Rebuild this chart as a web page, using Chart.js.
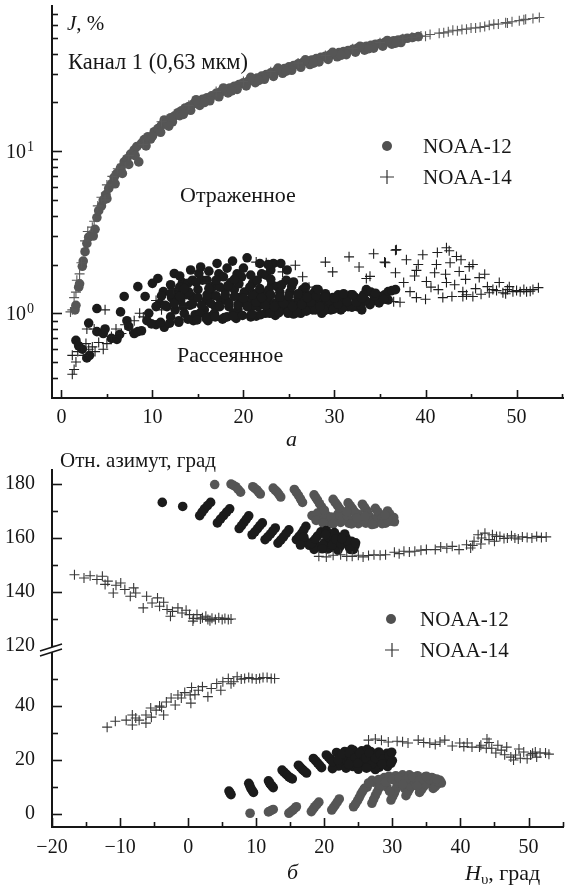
<!DOCTYPE html>
<html>
<head>
<meta charset="utf-8">
<script src="https://cdn.jsdelivr.net/npm/chart.js@4.4.2/dist/chart.umd.min.js"></script>
<style>
  html, body { margin: 0; padding: 0; background: #fff; }
  #wrap { position: relative; width: 570px; height: 886px; overflow: hidden; }
  canvas { position: absolute; left: 0; }
  #topChart { top: 0; }
  #bottomChart { top: 440px; }
</style>
</head>
<body>
<div id="wrap">
  <canvas id="topChart" width="570" height="460"></canvas>
  <canvas id="bottomChart" width="570" height="446"></canvas>
</div>
<script>
// ---- panel a: J, % vs H ----
// reflected signal
const topReflected12 = [
  [1.5,1.05],[1.6,1.12],[1.9,1.45],[2.0,1.52],[2.3,1.95],[2.4,2.1],[2.6,2.4],[2.8,2.7],[3.0,2.95],[3.3,3.05],
  [3.5,3.0],[3.7,3.3],[3.9,3.9],[4.1,4.3],[4.4,4.6],[4.6,5.0],[4.9,5.4],[5.2,5.9],[5.5,6.3],[5.8,6.9],
  [6.1,7.3],[6.5,7.9],[6.9,8.6],[7.2,9.0],[7.6,9.6],[8.0,10.2],[8.3,10.7],[8.5,8.6],[8.8,11.2],[9.1,11.8],
  [9.5,12.3],[9.8,11.9],[10.2,13.2],[10.6,13.8],[11.0,14.5],[11.3,15.6],[11.6,15.0],[12.0,16.1],[12.4,16.5],[12.8,17.3],
  [13.2,17.8],[13.6,18.5],[14.0,18.9],[14.5,19.6],[15.0,20.2],[15.5,20.9],[16.0,21.4],[16.5,22.0],[17.0,22.8],[17.5,23.3],
  [18.0,24.0],[18.5,24.6],[19.0,25.2],[19.5,25.8],[20.0,26.5],[20.5,27.0],[21.0,27.8],[21.5,28.3],[22.0,29.1],[22.5,29.7],
  [23.0,30.5],[23.5,31.0],[24.0,31.8],[24.5,32.4],[25.0,33.2],[25.5,33.8],[26.0,34.6],[26.5,35.2],[27.0,36.0],[27.5,36.5],
  [28.0,37.3],[28.5,38.0],[29.0,38.6],[29.5,39.4],[30.0,40.0],[30.5,40.6],[31.0,41.3],[31.5,41.9],[32.0,42.6],[32.5,43.2],
  [33.0,43.9],[33.5,44.4],[34.0,45.1],[34.5,45.8],[35.0,46.3],[35.5,46.9],[36.0,47.5],[36.5,48.1],[37.0,48.6],[37.5,49.2],
  [38.0,49.8],[38.6,50.4],[39.2,51.0],
  [12.2,15.2],[13.0,16.6],[14.2,17.9],[15.2,19.2],[16.3,20.5],[17.3,21.7],[18.3,22.9],[19.3,24.1],[20.3,25.3],[21.3,26.5],
  [22.3,27.8],[23.3,29.0],[24.3,30.3],[25.3,31.6],[26.3,33.0],[27.3,34.3],[28.3,35.6],[29.3,36.9],[30.3,38.3],[31.3,39.5],
  [32.3,40.9],[33.3,42.1],[34.3,43.3],[35.3,44.5],[36.3,45.8],[37.3,46.9],
  [14.8,20.8],[17.8,24.6],[20.8,28.6],[23.8,32.6],[26.8,36.7],[29.8,40.8],
  [5.0,5.1],[5.9,6.3],[6.7,7.3],[7.4,8.3],[8.1,9.4],[9.3,10.8],[10.0,12.4],[10.9,13.1],[11.8,14.3],[13.4,16.9],
  [15.7,20.0],[18.7,23.6],[21.7,27.4],[24.7,31.2],[27.7,35.0],[30.7,39.1],[33.7,42.9],[36.7,46.5],[32.8,44.4],[35.8,48.3]
];
const topReflected14 = [
  [1.0,1.02],[1.2,1.05],[1.4,1.25],[1.6,1.35],[1.7,1.6],[2.0,1.75],[2.2,2.05],[2.6,2.8],[2.9,3.2],[3.4,3.4],
  [3.6,3.7],[4.0,4.6],[4.4,5.2],[4.8,5.0],[5.0,6.2],[5.6,7.0],[6.2,7.8],[7.0,8.0],[7.4,9.4],[9.0,11.0],
  [11.0,15.2],[14.0,19.2],[17.0,23.4],[20.0,27.0],[23.0,31.0],[26.0,35.0],[29.0,39.0],[32.0,43.0],[35.0,46.8],[37.5,49.5],
  [38.5,50.5],[39.5,51.5],[40.0,51.3],[40.5,52.6],[41.5,53.6],[42.0,53.8],[42.5,54.6],[43.0,55.8],[43.5,55.5],[44.0,56.4],
  [44.5,56.7],[45.0,57.6],[45.5,57.7],[46.0,58.2],[46.5,58.9],[47.0,60.0],[47.5,60.7],[48.0,61.0],[48.8,62.2],[49.0,61.8],
  [49.5,63.0],[50.3,64.0],[50.8,64.8],[51.0,65.2],[51.8,66.0],[52.5,67.0]
];
// scattered signal
const topScatter12 = [
  [1.6,0.68],[1.9,0.63],[2.3,0.6],[2.8,0.53],[3.1,0.55],[3.0,0.87],[3.9,0.77],[3.9,1.07],[4.6,0.75],[4.8,0.8],
  [5.5,0.7],[6.1,0.69],[6.4,0.74],[6.5,1.02],[6.9,1.27],[7.2,0.9],[7.4,0.83],[8.0,0.75],[8.4,0.77],[8.4,1.46],
  [8.8,0.78],[9.2,1.27],[9.6,1.0],[9.4,0.9],
  [10.0,1.53],[10.4,0.85],[10.6,1.64],[10.8,1.15],[11.2,1.36],[11.3,0.82],[11.6,1.1],[12.0,0.95],[12.1,1.25],[12.4,1.76],
  [12.7,1.36],[12.9,0.88],[13.1,1.2],[13.3,1.55],[13.5,1.0],[13.9,1.53],[14.1,1.12],[14.3,1.27],[14.5,0.9],[14.7,0.98],
  [15.0,1.4],[15.1,1.76],[15.3,1.93],[15.5,1.6],[15.7,1.05],[15.9,1.2],
  [16.1,0.9],[16.3,0.95],[16.5,1.3],[16.7,1.46],[16.9,1.1],[17.1,2.03],[17.3,1.75],[17.5,1.2],[17.7,0.92],[17.8,1.68],
  [18.0,1.38],[18.2,0.95],[18.4,1.1],[18.6,1.55],[18.8,2.1],[19.0,1.4],[19.2,0.93],[19.4,1.05],[19.6,1.25],[19.8,1.68],
  [20.0,1.9],[20.2,1.15],[20.4,2.2],[20.6,1.2],[20.8,0.95],
  [21.0,1.53],[21.2,1.32],[21.4,0.96],[21.6,1.1],[21.8,2.03],[22.0,1.75],[22.2,1.33],[22.4,1.0],[22.5,1.72],[22.7,1.2],
  [22.9,1.05],[23.1,1.5],[23.3,2.03],[23.5,0.97],[23.7,1.46],[23.9,1.25],[24.1,2.03],[24.3,1.1],[24.5,1.2],[24.7,1.6],
  [24.9,1.0],[25.1,1.35],[25.3,1.46],
  [25.5,0.99],[25.7,1.15],[26.0,1.25],[26.3,1.0],[26.5,1.4],[26.8,1.12],[27.0,1.3],[27.3,1.2],[27.6,1.05],[27.8,1.35],
  [28.0,1.4],[28.3,1.15],[28.6,1.0],[28.8,1.2],[29.0,1.32],[29.3,1.08],[29.6,1.05],[29.8,1.25],[30.1,1.15],[30.4,1.3],
  [30.7,1.05],[31.0,1.22],[31.2,1.2],[31.5,1.1],[32.0,1.1],[32.3,1.25],[32.7,1.2],[33.0,1.05],[33.5,1.4],[33.9,1.15],
  [34.3,1.2],[34.7,1.25],[35.1,1.27],[35.5,1.3],[35.9,1.36],[36.3,1.38],[36.7,1.4],
  [12.5,1.05],[13.0,1.45],[13.7,1.3],[14.4,1.6],[15.2,1.0],[16.0,1.6],[16.8,1.0],[17.4,1.45],[18.1,1.2],[18.9,1.0],
  [19.3,1.75],[20.1,1.35],[20.9,1.1],[21.5,1.6],[22.1,1.15],[22.8,1.4],[23.4,1.15],[24.0,1.35],[24.6,1.05],[25.2,1.15],
  [25.9,1.05],[26.7,1.25],[27.4,1.1],[28.2,1.25],[29.1,1.15],[29.9,1.1],[30.6,1.2],[31.8,1.3],[32.5,1.1],[33.2,1.3],
  [34.0,1.35],
  [9.9,0.86],[10.9,0.88],[11.9,0.87],[12.9,0.9],[13.9,0.92],[14.9,0.91],[15.9,0.93],[16.9,0.95],[17.9,0.94],[18.9,0.96],
  [19.9,0.97],[20.9,0.99],[21.9,0.98],[22.9,1.0],[23.9,1.01],[24.9,1.02],[25.9,1.01],[26.9,1.03],[27.9,1.05],[28.9,1.04],
  [29.9,1.06],[30.9,1.08],[31.9,1.09],[32.9,1.12],[33.9,1.13],[34.9,1.16],[35.9,1.21],
  [10.4,1.1],[11.4,1.12],[12.4,1.15],[13.4,1.1],[14.4,1.14],[15.4,1.12],[16.4,1.15],[17.4,1.1],[18.4,1.16],[19.4,1.13],
  [20.4,1.1],[21.4,1.17],[22.4,1.12],[23.4,1.1],[24.4,1.15],[25.4,1.1],[26.4,1.13],[27.4,1.17],[28.4,1.1],[29.4,1.2],
  [30.4,1.14],[31.4,1.18],[32.4,1.17],[33.4,1.2],[34.4,1.28],[35.4,1.22],
  [11.0,1.28],[12.0,1.32],[13.0,1.27],[14.0,1.35],[15.0,1.25],[16.0,1.3],[17.0,1.28],[18.0,1.3],[19.0,1.27],[20.0,1.24],
  [21.0,1.3],[22.0,1.25],[23.0,1.3],[24.0,1.26],[25.0,1.28],[26.0,1.32],[27.0,1.25],[28.0,1.28],[29.0,1.26],[30.0,1.24],
  [31.0,1.32],[32.0,1.3],[33.0,1.24],[34.5,1.33],
  [12.0,1.5],[13.5,1.42],[14.8,1.55],[16.2,1.42],[17.0,1.6],[18.3,1.48],[19.5,1.52],[20.7,1.45],[21.8,1.42],[23.0,1.62],
  [24.2,1.5],[25.5,1.56],[26.8,1.45],[28.2,1.4],
  [13.0,1.7],[14.2,1.85],[16.2,1.82],[18.2,1.9],[19.0,1.62],[20.8,1.72],[23.0,1.85],[24.8,1.85],[22.7,2.0]
];
const topScatter14 = [
  [1.2,0.42],[1.4,0.45],[1.2,0.55],[1.6,0.5],[1.8,0.58],[2.2,0.62],[2.4,0.55],[2.7,0.65],[3.0,0.6],[3.4,0.62],
  [3.7,0.58],[4.1,0.66],[4.6,0.6],[5.0,0.65],[2.8,0.8],[3.6,0.8],[4.8,1.05],[5.5,0.72],[6.0,0.8],[6.6,0.75],
  [7.0,0.85],[7.5,0.8],[8.0,0.9],[8.6,1.0],[9.0,0.95],[10.4,1.2],[11.0,1.05],[12.3,1.4],[13.5,1.1],[16.0,1.55],
  [21.4,2.07],[22.5,2.05],[24.3,1.8],[25.7,1.98],[26.5,1.68],[27.2,1.45],[29.0,2.07],[29.8,1.8],[31.6,2.23],[32.7,1.93],
  [33.5,1.64],[34.3,2.33],[35.5,2.07],[36.7,2.45],[35.6,2.05],[36.8,2.47],[37.9,2.14],[36.7,1.78],[33.9,1.69],[37.6,1.55],
  [38.3,1.36],[39.2,2.0],[39.0,1.84],[39.7,2.3],[40.1,1.57],[40.0,1.22],[41.3,2.37],[41.2,2.0],[41.0,1.78],[41.4,1.4],
  [42.3,2.54],[42.6,2.43],[42.7,2.05],[42.2,1.74],[42.3,1.55],[42.9,1.27],[43.4,2.24],[43.9,2.14],[43.7,1.81],[44.1,1.36],
  [44.8,1.94],[45.2,2.0],[44.4,1.62],[45.2,1.27],[45.9,1.66],[46.5,1.74],[46.8,1.46],[47.4,1.4],[48.1,1.55],[48.5,1.34],
  [49.2,1.46],[49.6,1.36],[50.4,1.36],[51.1,1.36],[51.8,1.4],[52.4,1.44],[36.5,1.18],[37.2,1.17],[39.0,1.25],[41.9,1.25],
  [44.1,1.27],[46.1,1.31],[47.0,1.34],[45.5,1.42],[47.8,1.38],[49.0,1.4],[50.0,1.38],[50.8,1.4],[43.2,1.5],[40.6,1.45],
  [38.8,1.7],[44.5,1.3],[48.8,1.32],[51.5,1.37]
];

// ---- panel б: relative azimuth vs H ----
const upper12Gray = [
  [3.9,179.8],[6.3,180.0],[7.0,179.0],[7.7,177.0],[9.5,179.0],[10.1,177.8],[10.6,176.3],[12.5,178.5],[13.1,177.0],[13.6,175.2],
  [15.6,178.0],[16.2,175.8],[16.8,173.2],[18.5,176.0],[19.0,174.0],[19.6,171.5],[21.3,174.3],[21.9,172.2],[22.5,170.0],[23.5,173.0],
  [24.1,171.0],[24.7,168.8],[25.6,172.5],[26.2,170.3],[26.6,168.0],[27.5,171.0],[28.2,168.7],[28.8,166.2],[29.3,170.0],[29.9,167.8],
  [30.3,166.0],[18.2,168.3],[19.5,167.0],[20.3,168.5],[20.8,166.0],[21.6,167.6],[22.4,165.8],[23.0,167.3],[23.6,165.5],[24.3,166.8],
  [25.0,165.3],[25.5,167.0],[26.1,165.5],[26.8,166.8],[27.4,165.2],[28.0,166.5],[29.0,165.5],[29.6,166.2],[30.2,167.6],[19.0,169.2],
  [22.0,168.8],[25.0,168.8],[27.8,167.8],
  [6.65,179.5],[7.35,178.0],[9.8,178.4],[10.35,177.0],[12.8,177.7],[13.35,176.1],[15.9,176.9],[16.5,174.5],[18.75,175.0],[19.3,172.7],
  [21.6,173.2],[22.2,171.1],[23.8,172.0],[24.4,169.9],[25.9,171.4],[26.4,169.1],[27.85,169.8],[28.5,167.4],[29.6,168.9],[30.1,166.9],
  [18.8,166.5],[19.8,165.6],[21.0,167.8],[21.3,165.2],[22.7,166.6],[23.3,168.4],[24.0,165.2],[24.8,167.4],[26.4,166.5],[27.0,165.0],
  [28.5,165.3],[29.3,166.8],[20.0,170.3],[23.3,169.8],[26.0,168.0],[28.9,168.6]
];
const upper12Black = [
  [-3.8,173.2],[-0.8,171.7],[1.7,168.3],[2.4,170.8],[3.3,173.2],[4.3,165.6],[5.2,168.3],[6.1,170.8],[7.5,163.5],[8.2,165.8],
  [8.9,168.2],[9.4,161.2],[10.2,163.5],[10.9,165.6],[11.3,159.4],[12.1,161.5],[12.8,163.7],[13.2,158.1],[14.0,160.4],[14.8,163.0],
  [15.9,159.4],[16.7,161.8],[17.3,164.3],[17.8,157.3],[18.4,158.8],[19.0,160.7],[19.5,162.3],[19.2,156.8],[20.0,158.2],[20.6,160.3],
  [21.0,156.5],[21.4,158.5],[21.9,160.5],[22.3,156.8],[22.8,158.6],[23.2,160.0],[23.6,157.0],[24.0,158.8],[24.5,157.2],[24.3,155.8],
  [20.5,155.9],[18.5,155.8],[22.0,155.5],[17.3,158.5],[23.0,161.5],[21.5,162.0],[20.3,162.8],
  [2.05,169.6],[2.85,172.0],[4.75,167.0],[5.65,169.6],[7.85,164.6],[8.55,167.0],[9.8,162.3],[10.55,164.6],[11.7,160.4],[12.45,162.6],
  [13.6,159.2],[14.4,161.7],[16.3,160.6],[17.0,163.0],[18.1,158.0],[18.7,159.7],[19.8,157.4],[20.2,161.3],[21.2,157.5],[21.7,159.5],
  [22.5,157.7],[23.4,158.8],[23.8,155.8],[24.6,158.2],[19.7,156.0],[22.6,159.8],[17.0,160.3],[16.5,157.4]
];
const upper14 = [
  [-16.7,146.4],[-15.3,145.2],[-14.4,146.0],[-13.4,144.6],[-12.6,145.8],[-12.2,142.8],[-11.8,144.0],[-11.0,139.6],[-10.6,142.5],[-9.9,143.3],
  [-9.3,140.9],[-8.5,138.4],[-8.0,141.5],[-7.7,139.6],[-6.6,134.1],[-6.1,138.4],[-5.3,135.9],[-4.5,137.8],[-4.2,134.7],[-3.6,136.2],
  [-3.1,133.5],[-2.6,131.0],[-2.3,132.8],[-1.5,134.1],[-0.9,132.2],[-0.3,133.2],[0.2,131.6],[0.7,129.2],[0.8,130.2],[1.3,131.6],
  [1.8,130.0],[2.1,130.4],[2.6,131.0],[2.9,129.8],[3.2,129.3],[3.5,130.3],[4.0,129.8],[4.5,130.4],[5.0,129.8],[5.4,130.2],
  [5.9,129.8],[6.3,130.0],
  [19.2,153.2],[20.3,153.0],[21.3,153.6],[22.4,153.8],[23.3,153.2],[24.1,153.2],[25.0,153.6],[25.7,153.0],[26.5,153.5],[27.3,153.8],
  [28.2,153.6],[29.0,153.8],[30.3,154.7],[31.0,154.2],[31.7,155.1],[32.5,154.8],[33.3,155.1],[34.2,155.5],[35.0,155.7],[36.3,155.7],
  [37.1,156.7],[38.0,156.2],[38.8,156.9],[39.8,155.7],[40.9,157.5],[41.5,156.3],[41.8,157.2],[42.0,158.8],[42.6,161.2],[43.0,157.8],
  [43.1,160.0],[43.6,161.8],[44.2,159.4],[44.7,161.2],[45.0,158.8],[45.3,160.6],[45.8,160.6],[46.4,159.8],[46.9,160.0],[47.5,160.8],
  [48.0,160.0],[48.5,159.6],[49.1,160.4],[49.8,160.2],[50.5,160.0],[51.2,160.6],[51.9,160.2],[52.6,160.4]
];
const lower12Black = [
  [6.0,8.5],[6.3,7.2],[8.9,11.4],[9.2,9.6],[9.6,8.0],[11.8,12.3],[12.1,11.0],[12.5,9.8],[13.8,16.3],[14.3,15.0],
  [14.8,13.8],[15.3,13.0],[16.2,18.1],[16.8,16.5],[17.4,15.2],[18.4,20.6],[19.0,19.0],[19.6,17.2],[20.3,21.9],[20.9,20.3],
  [21.5,18.5],[21.8,22.8],[22.3,21.0],[22.8,19.2],[23.0,23.2],[23.4,21.5],[23.9,19.5],[24.2,17.6],[24.3,23.6],[24.7,22.0],
  [25.2,20.0],[25.6,18.1],[25.5,23.4],[25.9,21.8],[26.4,19.8],[26.9,17.5],[26.8,23.2],[27.2,21.6],[27.7,19.5],[28.1,17.4],
  [28.0,23.0],[28.5,21.4],[28.9,19.5],[29.2,22.5],[29.6,20.8],[30.0,19.8],[29.3,17.6],[22.1,17.8],[23.2,17.0],[25.0,16.6],
  [27.5,16.5],[24.0,24.0],[26.3,24.0],[21.2,16.8],
  [6.15,7.8],[9.05,10.5],[9.4,8.8],[11.95,11.6],[12.3,10.4],[14.05,15.6],[14.55,14.4],[15.05,13.4],[16.5,17.3],[17.1,15.8],
  [18.7,19.8],[19.3,18.1],[20.6,21.1],[21.2,19.4],[22.0,20.0],[22.6,22.2],[23.7,22.6],[24.5,20.8],[24.9,18.8],[25.2,22.6],
  [26.1,20.8],[26.6,22.6],[27.0,18.6],[27.5,20.6],[28.2,22.2],[28.7,20.4],[28.5,18.4],[29.5,21.7],[29.9,22.9],[29.8,18.8],
  [23.6,18.4],[26.2,17.0]
];
const lower12Gray = [
  [9.1,0.3],[11.8,0.8],[12.5,1.7],[14.8,0.3],[15.4,1.5],[15.9,2.7],[18.1,0.9],[18.6,2.7],[19.2,4.4],[21.1,1.5],
  [21.6,3.3],[22.2,5.6],[24.3,2.7],[24.9,5.0],[25.4,7.5],[25.9,9.5],[27.0,4.0],[27.5,6.8],[28.0,9.5],[28.5,11.8],
  [29.8,5.2],[30.3,7.8],[30.7,10.5],[31.2,12.5],[32.0,6.8],[32.5,9.2],[33.0,11.2],[33.5,13.2],[34.0,8.0],[34.6,10.2],
  [35.2,12.0],[35.8,13.5],[36.0,9.5],[36.6,11.0],[37.0,12.5],[37.2,11.5],[26.3,10.0],[27.2,11.8],[28.8,13.5],[29.5,14.0],
  [30.5,14.2],[31.5,14.5],[32.5,14.5],[33.7,14.2],[34.8,13.8],[36.0,13.2],[29.2,10.0],[31.8,9.5],[27.0,12.5],[26.5,11.5],
  [12.15,1.25],[15.1,0.9],[15.65,2.1],[18.35,1.8],[18.9,3.5],[21.35,2.4],[21.9,4.4],[24.6,3.8],[25.15,6.2],[25.65,8.5],
  [27.25,5.4],[27.75,8.1],[28.25,10.6],[30.05,6.5],[30.5,9.1],[30.95,11.5],[32.25,8.0],[32.75,10.2],[33.25,12.2],[34.3,9.1],
  [34.9,11.1],[35.5,12.8],[36.3,10.2],[36.8,11.8],[28.0,12.8],[29.0,11.8],[30.0,12.8],[31.0,13.4],[32.0,12.8],[33.0,13.8],
  [34.0,12.6],[35.0,14.0],[36.5,13.0],[31.5,11.0],[33.6,10.4],[29.6,8.4]
];
const lower14 = [
  [-11.9,32.2],[-10.7,34.4],[-9.1,34.8],[-8.2,36.7],[-8.2,33.0],[-7.7,35.6],[-7.2,34.8],[-6.2,33.7],[-6.2,36.7],[-5.5,39.3],
  [-5.4,35.9],[-4.7,38.5],[-4.2,40.0],[-3.9,39.6],[-3.6,36.7],[-3.2,41.5],[-2.5,43.0],[-1.9,40.4],[-1.5,44.1],[-1.0,43.0],
  [-0.5,45.0],[0.3,44.1],[0.4,41.1],[0.5,46.9],[1.0,44.2],[1.5,45.9],[2.1,47.2],[2.9,43.5],[3.4,46.5],[4.2,48.4],
  [4.8,45.9],[5.1,49.0],[5.9,50.2],[6.3,48.3],[6.7,49.0],[7.2,50.9],[7.8,50.0],[8.3,50.2],[8.9,50.6],[9.4,50.2],
  [10.0,50.0],[10.5,50.2],[11.0,50.6],[11.6,50.6],[12.2,50.2],[12.7,50.2],
  [26.5,27.4],[27.5,27.8],[28.4,27.3],[29.4,26.7],[30.7,27.0],[31.5,26.8],[32.3,26.3],[33.8,27.4],[34.6,26.5],[35.5,26.3],
  [36.3,25.8],[37.0,26.7],[37.7,27.4],[38.8,25.2],[39.9,26.3],[40.5,25.0],[41.0,26.3],[41.7,24.8],[42.8,24.8],[43.0,25.5],
  [43.9,27.8],[43.8,24.4],[44.2,26.5],[44.6,24.4],[45.2,22.6],[45.5,25.5],[46.0,23.7],[46.5,22.0],[46.8,24.8],[47.4,21.1],
  [47.8,20.0],[48.1,21.9],[48.6,24.1],[48.8,20.7],[49.3,23.0],[49.8,20.5],[50.3,21.9],[50.6,22.5],[51.0,23.0],[51.2,21.1],
  [51.7,22.6],[52.5,22.6],[53.0,22.2]
];

// tick values
const topXMajor = [0, 10, 20, 30, 40, 50];
const topXMinor = [5, 15, 25, 35, 45, 55];
const topYMajor = [1, 10];
const topYMinor = [0.4, 0.5, 0.6, 0.7, 0.8, 0.9, 2, 3, 4, 5, 6, 7, 8, 9, 20, 30, 40, 50, 60, 70];
const botXMajor = [-20, -10, 0, 10, 20, 30, 40, 50];
const botXMinor = [-15, -5, 5, 15, 25, 35, 45, 55];
const upYMajor = [120, 140, 160, 180];
const upYMinor = [130, 150, 170];
const lowYMajor = [0, 20, 40];
const lowYMinor = [10, 30, 50];

const SERIF = "'Liberation Serif', 'Times New Roman', 'DejaVu Serif', serif";
const INK = '#161616';

Chart.defaults.font.family = SERIF;
Chart.defaults.font.size = 20;
Chart.defaults.color = INK;

function setTicks(major, minor) {
  return scale => {
    scale.ticks = major.concat(minor).sort((a, b) => a - b)
      .map(v => ({ value: v, major: major.includes(v) }));
  };
}
function majorLabel(major) {
  return v => major.includes(v) ? String(v).replace('-', '\u2212') : '';
}
// keep the plot area where the reference has it: no extra room for edge labels
function fit(prop, size) {
  return s => {
    s[prop] = size;
    s.paddingTop = 0; s.paddingBottom = 0; s.paddingLeft = 0; s.paddingRight = 0;
  };
}

function axisOpts(extra) {
  return Object.assign({
    type: 'linear',
    grid: { display: false, drawTicks: false },
    border: { display: true, color: INK, width: 2 },
  }, extra);
}

function dots(data, color, axis) {
  return {
    data: data, yAxisID: axis || 'y',
    pointStyle: 'circle', pointRadius: 4.8,
    backgroundColor: color, borderWidth: 0, order: 1
  };
}
function crosses(data, color, axis) {
  return {
    data: data, yAxisID: axis || 'y',
    pointStyle: 'cross', pointRadius: 5,
    borderColor: color, borderWidth: 1.1, order: 0
  };
}

// inward tick marks, drawn from the scales' own ticks
const axisMarks = {
  id: 'axisMarks',
  afterDraw(chart, args, opts) {
    const ctx = chart.ctx;
    ctx.save();
    ctx.strokeStyle = INK;
    ctx.lineWidth = 1.6;
    Object.values(chart.scales).forEach(s => {
      const len = s.isHorizontal() ? opts.x : opts.y;
      s.ticks.forEach(t => {
        const l = t.major ? len[0] : len[1];
        const p = Math.round(s.getPixelForValue(t.value)) + 0.5;
        ctx.beginPath();
        if (s.isHorizontal()) {
          ctx.moveTo(p, s.top);
          ctx.lineTo(p, s.top - l);
        } else {
          ctx.moveTo(s.right, p);
          ctx.lineTo(s.right + l, p);
        }
        ctx.stroke();
      });
    });
    // decade labels of the log axis: 10 with a raised exponent
    if (opts.decades) {
      const s = chart.scales.y;
      opts.decades.forEach(v => {
        const y = s.getPixelForValue(v);
        ctx.fillStyle = INK;
        ctx.textBaseline = 'alphabetic';
        ctx.font = '20px ' + SERIF;
        ctx.textAlign = 'right';
        ctx.fillText('10', 26, y + 7);
        ctx.textAlign = 'left';
        ctx.font = '14px ' + SERIF;
        ctx.fillText(String(Math.round(Math.log10(v))), 27, y);
      });
    }
    // axis break marks
    if (opts.breakAt) {
      const y = chart.scales[opts.breakAt].top;
      const x = chart.chartArea.left;
      ctx.fillStyle = '#fff';
      ctx.beginPath();
      ctx.moveTo(x - 12, y + 4); ctx.lineTo(x + 10, y - 3);
      ctx.lineTo(x + 10, y + 2); ctx.lineTo(x - 12, y + 9);
      ctx.closePath(); ctx.fill();
      ctx.lineWidth = 1.5;
      ctx.beginPath();
      ctx.moveTo(x - 12, y + 4); ctx.lineTo(x + 10, y - 3);
      ctx.moveTo(x - 12, y + 9); ctx.lineTo(x + 10, y + 2);
      ctx.stroke();
    }
    ctx.restore();
  }
};

// captions and the in-plot legend
const captions = {
  id: 'captions',
  afterDraw(chart, args, opts) {
    const ctx = chart.ctx;
    ctx.save();
    ctx.fillStyle = INK;
    ctx.textBaseline = 'alphabetic';
    ctx.textAlign = 'left';
    (opts.items || []).forEach(item => {
      let x = item.x;
      item.parts.forEach(p => {
        ctx.font = (p.italic ? 'italic ' : '') + (p.size || 21) + 'px ' + SERIF;
        ctx.fillText(p.text, x, item.y + (p.dy || 0));
        x += ctx.measureText(p.text).width;
      });
    });
    (opts.legend || []).forEach(l => {
      if (l.marker === 'circle') {
        ctx.fillStyle = l.color;
        ctx.beginPath();
        ctx.arc(l.x, l.y, 5, 0, Math.PI * 2);
        ctx.fill();
      } else {
        ctx.strokeStyle = l.color;
        ctx.lineWidth = 1.2;
        ctx.beginPath();
        ctx.moveTo(l.x - 7, l.y); ctx.lineTo(l.x + 7, l.y);
        ctx.moveTo(l.x, l.y - 7); ctx.lineTo(l.x, l.y + 7);
        ctx.stroke();
      }
      ctx.fillStyle = INK;
      ctx.font = '21px ' + SERIF;
      ctx.fillText(l.text, l.tx, l.y + 7);
    });
    ctx.restore();
  }
};

function drawCharts() {
  new Chart(document.getElementById('topChart'), {
    type: 'scatter',
    data: {
      datasets: [
        crosses(topScatter14, '#1e1e1e'),
        dots(topScatter12, '#1b1b1b'),
        crosses(topReflected14, '#5a5a5a'),
        dots(topReflected12, '#565656')
      ]
    },
    options: {
      responsive: false,
      animation: false,
      events: [],
      layout: { padding: { top: 5, left: 0, right: 0, bottom: 0 } },
      plugins: {
        legend: { display: false },
        tooltip: { enabled: false },
        axisMarks: { x: [8, 4], y: [10, 6], decades: topYMajor },
        captions: {
          items: [
            { x: 67, y: 30, parts: [{ text: 'J', italic: true }, { text: ', %' }] },
            { x: 68, y: 69, parts: [{ text: 'Канал 1 (0,63 мкм)', size: 22.5 }] },
            { x: 180, y: 202, parts: [{ text: 'Отраженное', size: 22 }] },
            { x: 177, y: 362, parts: [{ text: 'Рассеянное', size: 22 }] },
            { x: 286, y: 446, parts: [{ text: 'a', italic: true, size: 22 }] }
          ],
          legend: [
            { marker: 'circle', color: '#505050', x: 387, y: 146, tx: 423, text: 'NOAA-12' },
            { marker: 'cross', color: '#333', x: 387, y: 177, tx: 423, text: 'NOAA-14' }
          ]
        }
      },
      scales: {
        x: axisOpts({
          min: -1.03, max: 55.2,
          afterBuildTicks: setTicks(topXMajor, topXMinor),
          afterFit: fit('height', 62),
          ticks: { padding: 8, autoSkip: false, maxRotation: 0, callback: majorLabel(topXMajor) }
        }),
        y: axisOpts({
          type: 'logarithmic',
          min: 0.305, max: 78.7,
          afterBuildTicks: setTicks(topYMajor, topYMinor),
          afterFit: fit('width', 52),
          ticks: { padding: 18, autoSkip: false, callback: () => '' }
        })
      }
    },
    plugins: [axisMarks, captions]
  });

  new Chart(document.getElementById('bottomChart'), {
    type: 'scatter',
    data: {
      datasets: [
        crosses(upper14, '#383838', 'yUp'),
        crosses(lower14, '#383838', 'yLow'),
        dots(upper12Black, '#1b1b1b', 'yUp'),
        dots(upper12Gray, '#555555', 'yUp'),
        dots(lower12Black, '#1b1b1b', 'yLow'),
        dots(lower12Gray, '#555555', 'yLow')
      ]
    },
    options: {
      responsive: false,
      animation: false,
      events: [],
      layout: { padding: { top: 30, left: 0, right: 0, bottom: 0 } },
      plugins: {
        legend: { display: false },
        tooltip: { enabled: false },
        axisMarks: { x: [9, 5], y: [10, 6], breakAt: 'yLow' },
        captions: {
          items: [
            { x: 60, y: 27, parts: [{ text: 'Отн. азимут, град' }] },
            { x: 287, y: 439, parts: [{ text: 'б', italic: true, size: 22 }] },
            { x: 465, y: 440, parts: [{ text: 'H', italic: true, size: 22 }, { text: 'υ', size: 15, dy: 4 }, { text: ', град', size: 22 }] }
          ],
          legend: [
            { marker: 'circle', color: '#505050', x: 391, y: 179, tx: 420, text: 'NOAA-12' },
            { marker: 'cross', color: '#333', x: 392, y: 210, tx: 420, text: 'NOAA-14' }
          ]
        }
      },
      scales: {
        x: axisOpts({
          min: -20, max: 55.2,
          afterBuildTicks: setTicks(botXMajor, botXMinor),
          afterFit: fit('height', 59),
          ticks: { padding: 9, autoSkip: false, maxRotation: 0, callback: majorLabel(botXMajor) }
        }),
        yLow: axisOpts({
          position: 'left', stack: 'azimuth', stackWeight: 180,
          min: -4.8, max: 61.9,
          afterBuildTicks: setTicks(lowYMajor, lowYMinor),
          afterFit: fit('width', 52),
          ticks: { padding: 17, autoSkip: false, callback: majorLabel(lowYMajor) }
        }),
        yUp: axisOpts({
          position: 'left', stack: 'azimuth', stackWeight: 177,
          min: 119.6, max: 185.2,
          afterBuildTicks: setTicks(upYMajor, upYMinor),
          afterFit: fit('width', 52),
          ticks: { padding: 17, autoSkip: false, callback: majorLabel(upYMajor) }
        })
      }
    },
    plugins: [axisMarks, captions]
  });
}

const fontsReady = document.fonts && document.fonts.load
  ? Promise.all([
      document.fonts.load("20px 'Liberation Serif'"),
      document.fonts.load("italic 20px 'Liberation Serif'")
    ]).catch(() => null)
  : Promise.resolve();
fontsReady.then(drawCharts);
</script>
</body>
</html>
